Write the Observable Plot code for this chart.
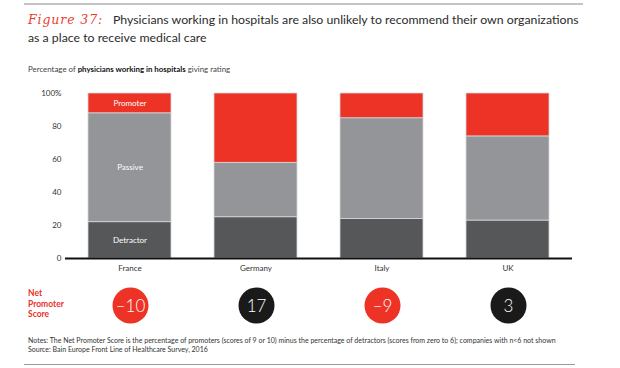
<!DOCTYPE html>
<html>
<head>
<meta charset="utf-8">
<script src="https://cdn.jsdelivr.net/npm/d3@7"></script>
<script src="https://cdn.jsdelivr.net/npm/@observablehq/plot@0.6"></script>
<style>
  body { margin: 0; width: 620px; height: 368px; position: relative; background: #fff; font-family: Lato, "Open Sans", sans-serif; overflow: hidden; }
  .abs { position: absolute; white-space: nowrap; }
  #toprule { left: 24px; top: 3px; width: 559px; height: 2px; background: #c4c4c4; }
  #botrule { left: 24px; top: 364px; width: 551px; height: 1px; background: #9a9a9a; }
  #fig { left: 28px; top: 11px; line-height: 18px; font-family: "DejaVu Serif", serif; font-style: italic; color: #e8412f; font-size: 12.5px; letter-spacing: 0.9px; }
  .tl { font-size: 12.3px; line-height: 18px; color: #2b2b2b; }
  #title1 { left: 113px; top: 11px; }
  #title2 { left: 28px; top: 29px; }
  #subtitle { left: 28px; top: 64px; font-size: 7.9px; color: #444; }
  #subtitle b { color: #111; }
  #chart { left: 0; top: 80px; }
  #nps { left: 0; top: 285px; }
  #npslabel { left: 28px; top: 288px; font-size: 8.5px; line-height: 10.5px; font-weight: bold; color: #e8312a; }
  #notes { left: 28px; top: 336px; font-size: 7px; line-height: 8.5px; color: #333; }
</style>
</head>
<body>
<div id="toprule" class="abs"></div>
<div id="fig" class="abs">Figure 37:</div>
<div id="title1" class="abs tl">Physicians working in hospitals are also unlikely to recommend their own organizations</div>
<div id="title2" class="abs tl">as a place to receive medical care</div>
<div id="subtitle" class="abs">Percentage of <b>physicians working in hospitals</b> giving rating</div>
<div id="chart" class="abs"></div>
<div id="nps" class="abs"></div>
<div id="npslabel" class="abs">Net<br>Promoter<br>Score</div>
<div id="notes" class="abs">Notes: The Net Promoter Score is the percentage of promoters (scores of 9 or 10) minus the percentage of detractors (scores from zero to 6); companies with n&lt;6 not shown<br>Source: Bain Europe Front Line of Healthcare Survey, 2016</div>
<div id="botrule" class="abs"></div>
<script>
const countries = ["France", "Germany", "Italy", "UK"];
const detractor = [22, 25, 24, 23];
const passive   = [66, 33, 61, 51];
const promoter  = [12, 42, 15, 26];
const npsValues = [-10, 17, -9, 3];
const npsLabels = ["\u201310", "17", "\u20139", "3"];
const categories = ["Detractor", "Passive", "Promoter"];
const yTicks = [0, 20, 40, 60, 80, 100];

const colors = {Detractor: "#555759", Passive: "#939598", Promoter: "#ec3325"};

const rows = [];
countries.forEach((c, i) => {
  rows.push({country: c, rating: "Detractor", value: detractor[i]});
  rows.push({country: c, rating: "Passive", value: passive[i]});
  rows.push({country: c, rating: "Promoter", value: promoter[i]});
});

const xOpts = {domain: countries, paddingInner: 0.34, paddingOuter: 0.18, label: null};

const chart = Plot.plot({
  width: 620,
  height: 200,
  marginLeft: 65,
  marginRight: 48,
  marginTop: 13,
  marginBottom: 22,
  style: {fontFamily: "Lato, 'Open Sans', sans-serif", fontSize: "8px", color: "#333", background: "transparent"},
  x: {...xOpts, tickSize: 0, tickPadding: 7},
  y: {domain: [0, 100], ticks: yTicks, tickSize: 0, tickPadding: 4, label: null,
      tickFormat: d => d === 100 ? "100%" : String(d)},
  color: {domain: categories, range: categories.map(k => colors[k])},
  marks: [
    Plot.barY(rows, Plot.stackY({x: "country", y: "value", fill: "rating", z: "rating", stroke: "#d8d8d8", strokeWidth: 0.8, order: categories})),
    Plot.text(rows.filter(d => d.country === "France"), Plot.stackY({x: "country", y: "value", z: "rating", text: "rating", fill: "white", fontSize: 8, order: categories})),
    Plot.ruleY([0], {stroke: "#111", strokeWidth: 2})
  ]
});
document.getElementById("chart").appendChild(chart);

const npsRows = countries.map((c, i) => ({country: c, nps: npsValues[i], label: npsLabels[i]}));
const nps = Plot.plot({
  width: 620,
  height: 40,
  marginLeft: 65,
  marginRight: 48,
  marginTop: 0,
  marginBottom: 0,
  style: {fontFamily: "Lato, 'Open Sans', sans-serif", background: "transparent"},
  x: {...xOpts, axis: null},
  y: {axis: null},
  marks: [
    Plot.dot(npsRows, {x: "country", r: 18, fill: d => d.nps < 0 ? "#ec3325" : "#1a1a1a", frameAnchor: "middle"}),
    Plot.text(npsRows, {x: "country", text: "label", fill: "white", fontSize: 17, fontWeight: 300, frameAnchor: "middle", dy: 1})
  ]
});
document.getElementById("nps").appendChild(nps);
</script>
</body>
</html>
